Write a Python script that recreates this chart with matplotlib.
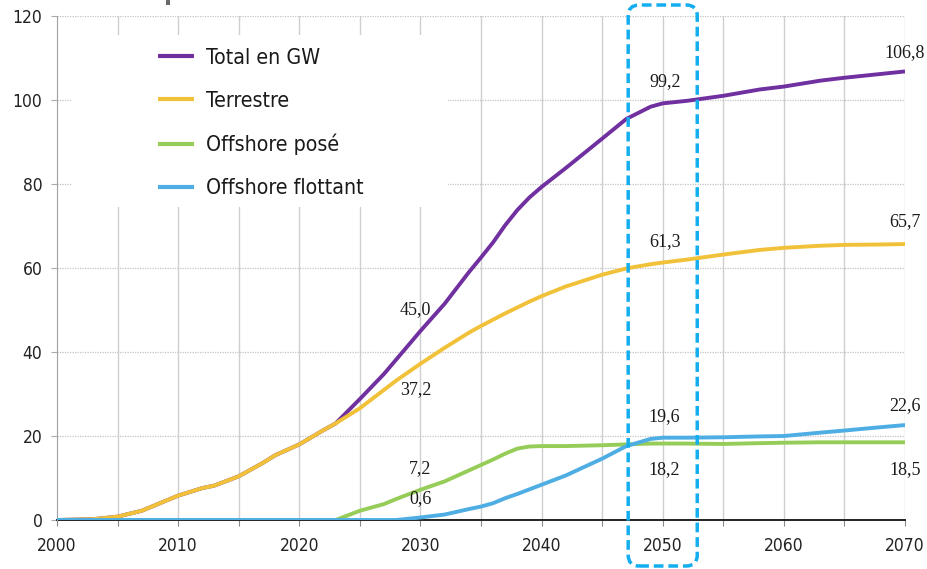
import matplotlib
matplotlib.use("Agg")
import matplotlib.pyplot as plt
from matplotlib.patches import FancyBboxPatch, Rectangle
from matplotlib.transforms import IdentityTransform

# ---------------- data ----------------
years = [2000, 2003, 2005, 2007, 2010, 2012, 2013, 2015, 2017, 2018, 2020, 2022,
         2023, 2025, 2027, 2028, 2030, 2032, 2034, 2035, 2036, 2037, 2038, 2039,
         2040, 2042, 2045, 2047, 2049, 2050, 2052, 2055, 2058, 2060, 2063, 2065,
         2068, 2070]

total = [0, 0.2, 0.8, 2.2, 5.8, 7.6, 8.2, 10.4, 13.6, 15.4, 18.0, 21.4,
         23.0, 28.8, 34.8, 38.2, 45.0, 51.5, 59.0, 62.5, 66.1, 70.2, 73.8, 76.8,
         79.3, 83.8, 90.8, 95.5, 98.4, 99.2, 99.8, 101.0, 102.5, 103.2, 104.6, 105.3,
         106.2, 106.8]

terrestre = [0, 0.2, 0.8, 2.2, 5.8, 7.6, 8.2, 10.4, 13.6, 15.4, 18.0, 21.4,
             23.0, 26.6, 31.0, 33.2, 37.2, 41.0, 44.6, 46.2, 47.7, 49.2, 50.6, 52.0,
             53.3, 55.6, 58.4, 59.9, 60.9, 61.3, 62.0, 63.2, 64.3, 64.8, 65.3, 65.5,
             65.6, 65.7]

offshore_pose = [0, 0, 0, 0, 0, 0, 0, 0, 0, 0, 0, 0,
                 0, 2.2, 3.8, 5.0, 7.2, 9.2, 11.8, 13.1, 14.4, 15.8, 17.0, 17.5,
                 17.6, 17.6, 17.8, 18.0, 18.2, 18.2, 18.2, 18.1, 18.3, 18.4, 18.5, 18.5,
                 18.5, 18.5]

offshore_flottant = [0, 0, 0, 0, 0, 0, 0, 0, 0, 0, 0, 0,
                     0, 0, 0, 0, 0.6, 1.3, 2.6, 3.2, 4.0, 5.2, 6.2, 7.3,
                     8.4, 10.6, 14.6, 17.6, 19.3, 19.6, 19.6, 19.7, 19.9, 20.0, 20.8, 21.3,
                     22.1, 22.6]

series_names = ["Total en GW", "Terrestre", "Offshore posé", "Offshore flottant"]
series_colors = ["#7030a0", "#f2c13a", "#96cd58", "#4eaee3"]

# value labels: (text, year, y-position)
label_texts = ["45,0", "37,2", "7,2", "0,6", "99,2", "61,3", "19,6", "18,2",
               "106,8", "65,7", "22,6", "18,5"]
label_years = [2029.6, 2029.6, 2030.0, 2030.0, 2050.2, 2050.2, 2050.1, 2050.1,
               2070.0, 2070.0, 2070.0, 2070.0]
label_vals = [50.0, 31.0, 12.2, 5.0, 104.3, 66.2, 24.6, 12.0,
              111.4, 71.0, 27.2, 12.0]

x_ticks = [2000, 2010, 2020, 2030, 2040, 2050, 2060, 2070]
y_ticks = [0, 20, 40, 60, 80, 100, 120]

SANS = {"family": "DejaVu Sans", "stretch": "condensed"}

# ---------------- figure ----------------
W, H = 927, 569
fig = plt.figure(figsize=(W / 100, H / 100), dpi=100)
ax = fig.add_axes([57 / W, 1 - 520 / H, (905 - 57) / W, (520 - 16) / H])

ax.set_xlim(2000, 2070)
ax.set_ylim(0, 120)

# grid
for yr in range(2005, 2071, 5):
    ax.axvline(yr, color="#cfcfcf", lw=1.0, zorder=0)
for v in y_ticks[1:]:
    ax.axhline(v, color="#c4c4c4", lw=0.9, ls=(0, (1, 1)), zorder=0)

# legend background box (white)
ax.add_patch(Rectangle((0.0177, 0.621), 0.443, 0.342, transform=ax.transAxes,
                       facecolor="white", edgecolor="none", zorder=1))

series = [total, terrestre, offshore_pose, offshore_flottant]
handles = []
for i, (vals, name, col) in enumerate(zip(series, series_names, series_colors)):
    h, = ax.plot(years, vals, color=col, lw=2.8, label=name, zorder=3 + i,
                 solid_capstyle="butt", solid_joinstyle="round")
    handles.append(h)

for t, xx, yy in zip(label_texts, label_years, label_vals):
    ax.text(xx, yy, t, ha="center", va="center", fontsize=13,
            family="Liberation Serif", color="#1a1a1a", zorder=10)

leg = ax.legend(handles=handles, loc="upper left", bbox_to_anchor=(0.119, 0.937),
                frameon=False, prop={**SANS, "size": 15.3}, handlelength=1.7,
                handletextpad=0.57, labelspacing=1.08, borderpad=0, borderaxespad=0)
for line in leg.get_lines():
    line.set_linewidth(3.0)
for txt in leg.get_texts():
    txt.set_color("#1a1a1a")
leg.set_zorder(12)

# axes styling
ax.set_xticks(x_ticks)
ax.set_yticks(y_ticks)
ax.set_xticks(range(2000, 2071, 5), minor=True)
ax.tick_params(axis="both", colors="#222222", length=4, width=0.8, direction="out")
ax.tick_params(axis="x", which="minor", length=4, width=0.8, color="#888888")
ax.tick_params(axis="x", which="major", color="#888888", pad=8.5)
ax.tick_params(axis="y", color="#aaaaaa", pad=6.5)
for lab in ax.get_xticklabels() + ax.get_yticklabels():
    lab.set_fontproperties({**SANS, "size": 12.5})
for s in ["top", "right"]:
    ax.spines[s].set_visible(False)
ax.spines["left"].set_color("#a0a0a0")
ax.spines["bottom"].set_color("#222222")
ax.spines["bottom"].set_linewidth(1.4)
ax.spines["bottom"].set_zorder(2)

# dashed rounded highlight around 2050 (in pixel coords, x from data)
x_left = ax.transData.transform((2047.15, 0))[0]
x_right = ax.transData.transform((2052.85, 0))[0]
box = FancyBboxPatch((x_left, 3), x_right - x_left, 561,
                     boxstyle="round,pad=0,rounding_size=11",
                     transform=IdentityTransform(), fill=False,
                     edgecolor="#12aef0", lw=2.5, ls=(0, (2.8, 1.4)),
                     zorder=20, clip_on=False)
fig.patches.append(box)

# fragment of a cropped title stroke above the chart
fig.patches.append(Rectangle((166, H - 5), 4, 5, transform=IdentityTransform(),
                             facecolor="#6a6a6a", edgecolor="none"))

fig.savefig("out.png", dpi=100)
